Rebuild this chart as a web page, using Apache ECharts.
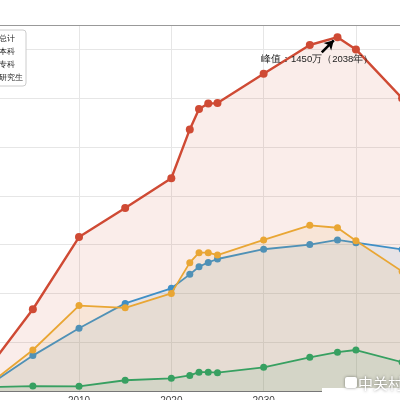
<!DOCTYPE html>
<html>
<head>
<meta charset="utf-8">
<script src="https://cdn.jsdelivr.net/npm/echarts@6/dist/echarts.min.js"></script>
<style>
  html, body { margin: 0; padding: 0; background: #fff; }
  #chart { width: 400px; height: 400px; }
</style>
</head>
<body>
<div id="chart"></div>
<script>
// graduates per year (万人)
const years = [2000, 2005, 2010, 2015, 2020, 2022, 2023, 2024, 2025, 2030, 2035, 2038, 2040, 2045];
const totalGrads = [84, 335, 631, 750, 872, 1072, 1156, 1178, 1180, 1300, 1418, 1450, 1400, 1200];
const benkeGrads = [18, 145, 257, 359, 421, 478, 509, 527, 541, 581, 600, 619, 608, 580];
const zhuankeGrads = [20, 168, 350, 341, 400, 526, 567, 567, 557, 619, 679, 669, 616, 490];
const yjsGrads = [16, 20, 19, 44, 52, 64, 77, 77, 75, 97, 138, 159, 168, 118];
const seriesNames = ['总计', '本科', '专科', '研究生'];
const peakYear = 2038;
const peakValue = 1450;

const colors = ['#cf4a34', '#3f8fc6', '#e9a634', '#37a061'];

const chart = echarts.init(document.getElementById('chart'));

function pairs(vals) {
    return years.map((y, i) => [y, vals[i]]);
}

const allSeries = [totalGrads, benkeGrads, zhuankeGrads, yjsGrads].map((vals, i) => ({
    name: seriesNames[i],
    type: 'line',
    data: pairs(vals),
    symbol: 'circle',
    symbolSize: i === 0 ? 8 : 7,
    lineStyle: { width: i === 0 ? 2.4 : 1.8, color: colors[i] },
    itemStyle: { color: colors[i] },
    areaStyle: { color: colors[i], opacity: 0.1 },
    emphasis: { disabled: true },
    z: 2 + i
}));

// peak arrow + note on the total series
allSeries[0].markLine = {
    silent: true,
    animation: false,
    symbol: ['none', 'arrow'],
    symbolSize: [8, 9],
    lineStyle: { color: '#000', width: 2.6, type: 'solid' },
    label: { show: false },
    data: [[{ coord: [2036.3, 1388] }, { coord: [2037.6, 1437] }]]
};
allSeries[0].markPoint = {
    silent: true,
    animation: false,
    symbol: 'circle',
    symbolSize: 1,
    itemStyle: { color: 'transparent' },
    label: {
        show: true,
        position: 'inside',
        color: '#222',
        fontSize: 9.5,
        formatter: `峰值：${peakValue}万（${peakYear}年）`
    },
    data: [{ coord: [2035.8, 1359] }]
};

const option = {
    animation: false,
    backgroundColor: '#fff',
    grid: { left: -13.3, right: -2.1, top: 25, bottom: 9, outerBoundsMode: 'none' },
    legend: {
        data: seriesNames,
        orient: 'vertical',
        left: -32,
        top: 30,
        itemWidth: 20,
        itemHeight: 8,
        itemGap: 2,
        padding: [3, 3, 3, 5],
        backgroundColor: '#fff',
        borderColor: '#ccc',
        borderWidth: 1,
        borderRadius: 3,
        textStyle: { fontSize: 8, color: '#222', lineHeight: 11 }
    },
    xAxis: [{
        type: 'value',
        min: 2000,
        max: 2045,
        interval: 10,
        axisLine: { show: true, lineStyle: { color: '#777', width: 1.2 } },
        axisTick: { show: false },
        axisLabel: { color: '#444', fontSize: 10, margin: 5, formatter: v => String(v) },
        splitLine: { show: true, lineStyle: { color: '#e6e6e6' } }
    }, {
        type: 'value',
        position: 'top',
        min: 2000,
        max: 2045,
        axisLine: { show: true, lineStyle: { color: '#999', width: 1.2 } },
        axisTick: { show: false },
        axisLabel: { show: false },
        splitLine: { show: false }
    }],
    yAxis: {
        type: 'value',
        min: 0,
        max: 1500,
        interval: 200,
        axisLine: { show: false },
        axisTick: { show: false },
        axisLabel: { show: false },
        splitLine: { show: true, lineStyle: { color: '#e6e6e6' } }
    },
    series: allSeries,
    graphic: [
        { type: 'rect', left: 322, top: 388, shape: { width: 78, height: 12 }, style: { fill: '#fff' }, z: 100 },
        {
            type: 'rect', left: 345, top: 377, shape: { width: 12, height: 11, r: 2 },
            style: { fill: '#fff', shadowBlur: 3, shadowColor: 'rgba(0,0,0,0.45)' }, z: 101
        },
        {
            type: 'text', left: 358, top: 376, z: 101,
            style: {
                text: '中关村',
                fill: '#fff',
                font: '15px "Noto Sans CJK SC"',
                textShadowBlur: 3,
                textShadowColor: 'rgba(0,0,0,0.5)'
            }
        }
    ]
};

chart.setOption(option);
</script>
</body>
</html>
